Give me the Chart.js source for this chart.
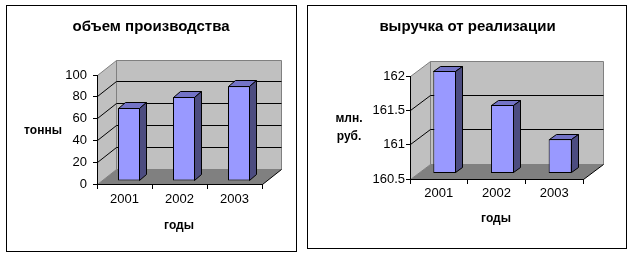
<!DOCTYPE html>
<html>
<head>
<meta charset="utf-8">
<script src="https://cdn.jsdelivr.net/npm/chart.js@4"></script>
<style>
body { margin: 0; background: #fff; }
.box { position: absolute; border: 1px solid #000; background: #fff; }
#box1 { left: 6px; top: 5px; width: 289px; height: 245px; }
#box2 { left: 307px; top: 5px; width: 318px; height: 242px; }
canvas { display: block; }
</style>
</head>
<body>
<div class="box" id="box1"><canvas id="volumeChart" width="289" height="245"></canvas></div>
<div class="box" id="box2"><canvas id="revenueChart" width="318" height="242"></canvas></div>
<script>
const years = ["2001", "2002", "2003"];
const volumeValues = [67, 77, 87];
const volumeTicks = [0, 20, 40, 60, 80, 100];
const revenueValues = [162, 161.5, 161];
const revenueTicks = [160.5, 161, 161.5, 162];

const FONT = "'Liberation Sans', Arial, sans-serif";

function crisp(v) {
    return Math.round(v - 0.5) + 0.5;
}

function poly(ctx, pts, fill, stroke) {
    ctx.beginPath();
    ctx.moveTo(pts[0][0], pts[0][1]);
    for (let i = 1; i < pts.length; i++) ctx.lineTo(pts[i][0], pts[i][1]);
    ctx.closePath();
    if (fill) { ctx.fillStyle = fill; ctx.fill(); }
    if (stroke) { ctx.strokeStyle = stroke; ctx.lineWidth = 1; ctx.stroke(); }
}

function line(ctx, x1, y1, x2, y2, color) {
    ctx.beginPath();
    ctx.moveTo(x1, y1);
    ctx.lineTo(x2, y2);
    ctx.strokeStyle = color;
    ctx.lineWidth = 1;
    ctx.stroke();
}

// fake excel-like 3d: walls, floor, bar tops/sides
const box3d = {
    id: "box3d",
    beforeDraw(chart, args, o) {
        const ctx = chart.ctx;
        const a = chart.chartArea;
        const yScale = chart.scales.y;
        const L = crisp(a.left), R = crisp(a.right), T = crisp(a.top), B = crisp(a.bottom);
        const dx = o.dx, dy = o.dy;
        ctx.save();
        // side wall
        poly(ctx, [[L, T], [L + dx, T - dy], [L + dx, B - dy], [L, B]], "#c0c0c0", "#808080");
        // back wall
        poly(ctx, [[L + dx, T - dy], [R + dx, T - dy], [R + dx, B - dy], [L + dx, B - dy]], "#c0c0c0", "#808080");
        // floor
        poly(ctx, [[L, B], [R, B], [R + dx, B - dy], [L + dx, B - dy]], "#808080", null);
        line(ctx, R, B, R + dx, B - dy, "#000");
        // gridlines
        yScale.ticks.forEach(t => {
            if (t.value <= yScale.min || t.value >= yScale.max) return;
            const y = crisp(yScale.getPixelForValue(t.value));
            line(ctx, L, y, L + dx, y - dy, "#000");
            line(ctx, L + dx, y - dy, R + dx, y - dy, "#000");
        });
        ctx.restore();
    },
    beforeDatasetsDraw(chart, args, o) {
        chart.ctx.save();
        chart.ctx.translate(o.sx, -o.sy);
    },
    afterDatasetsDraw(chart, args, o) {
        const ctx = chart.ctx;
        ctx.restore();
        const a = chart.chartArea;
        const meta = chart.getDatasetMeta(0);
        ctx.save();
        meta.data.forEach(bar => {
            const p = bar.getProps(["x", "y", "base", "width"], true);
            const left = Math.round(p.x - p.width / 2 + o.sx) + 0.5;
            const right = Math.round(p.x + p.width / 2 + o.sx) - 0.5;
            const top = Math.round(p.y - o.sy) + 0.5;
            const bottom = Math.round(Math.min(p.base, a.bottom) - o.sy) - 0.5;
            poly(ctx, [[left, top], [left + o.bdx, top - o.bdy], [right + o.bdx, top - o.bdy], [right, top]], "#7373c6", "#000");
            poly(ctx, [[right, top], [right + o.bdx, top - o.bdy], [right + o.bdx, bottom - o.bdy], [right, bottom]], "#4c4c80", "#000");
        });
        ctx.restore();
    },
    afterDraw(chart, args, o) {
        const ctx = chart.ctx;
        ctx.save();
        ctx.fillStyle = "#000";
        ctx.textAlign = "center";
        ctx.textBaseline = "alphabetic";
        o.texts.forEach(t => {
            ctx.font = t.font;
            ctx.fillText(t.text, t.x, t.y);
        });
        ctx.restore();
    }
};

function makeChart(id, values, ticks, min, max, layout, depth, texts, tickPad) {
    return new Chart(document.getElementById(id), {
        type: "bar",
        data: {
            labels: years,
            datasets: [{
                data: values,
                backgroundColor: "#9999ff",
                borderColor: "#000",
                borderWidth: 1,
                borderSkipped: false,
                barPercentage: 0.4,
                categoryPercentage: 1,
                base: min
            }]
        },
        options: {
            responsive: false,
            animation: false,
            devicePixelRatio: 1,
            layout: { padding: layout.padding },
            plugins: {
                legend: { display: false },
                title: { display: false },
                tooltip: { enabled: false },
                box3d: Object.assign({ texts: texts }, depth)
            },
            scales: {
                x: {
                    afterFit(s) { s.height = 30; },
                    grid: { drawOnChartArea: false, drawTicks: true, tickLength: 5, color: "#000", offset: true },
                    border: { display: true, color: "#000" },
                    ticks: { color: "#000", font: { family: FONT, size: 13 }, padding: tickPad.x, maxRotation: 0 }
                },
                y: {
                    min: min,
                    max: max,
                    afterFit(s) { s.width = layout.yWidth; },
                    afterBuildTicks(s) { s.ticks = ticks.map(v => ({ value: v })); },
                    grid: { drawOnChartArea: false, drawTicks: true, tickLength: 4, color: "#000" },
                    border: { display: true, color: "#000" },
                    ticks: {
                        color: "#000",
                        font: { family: FONT, size: 13 },
                        padding: tickPad.y,
                        callback: v => String(v)
                    }
                }
            }
        },
        plugins: [box3d]
    });
}

const titleFont = "bold 15px " + FONT;
const labelFont = "bold 12px " + FONT;

makeChart("volumeChart", volumeValues, volumeTicks, 0, 100,
    { padding: { left: 10, top: 69, right: 34, bottom: 37 }, yWidth: 80 },
    { dx: 19, dy: 15, sx: 4.5, sy: 3, bdx: 7, bdy: 6 },
    [
        { text: "объем производства", x: 144, y: 25, font: titleFont },
        { text: "тонны", x: 36, y: 128, font: labelFont },
        { text: "годы", x: 172, y: 222.5, font: labelFont }
    ],
    { x: 3, y: 6 });

makeChart("revenueChart", revenueValues, revenueTicks, 160.5, 162,
    { padding: { left: 22, top: 70, right: 43, bottom: 39 }, yWidth: 80 },
    { dx: 20, dy: 15, sx: 6, sy: 5.5, bdx: 7, bdy: 5 },
    [
        { text: "выручка от реализации", x: 159.5, y: 24.5, font: titleFont },
        { text: "млн.", x: 41, y: 116, font: labelFont },
        { text: "руб.", x: 41, y: 134, font: labelFont },
        { text: "годы", x: 188, y: 216, font: labelFont }
    ],
    { x: 2, y: 1 });
</script>
</body>
</html>
